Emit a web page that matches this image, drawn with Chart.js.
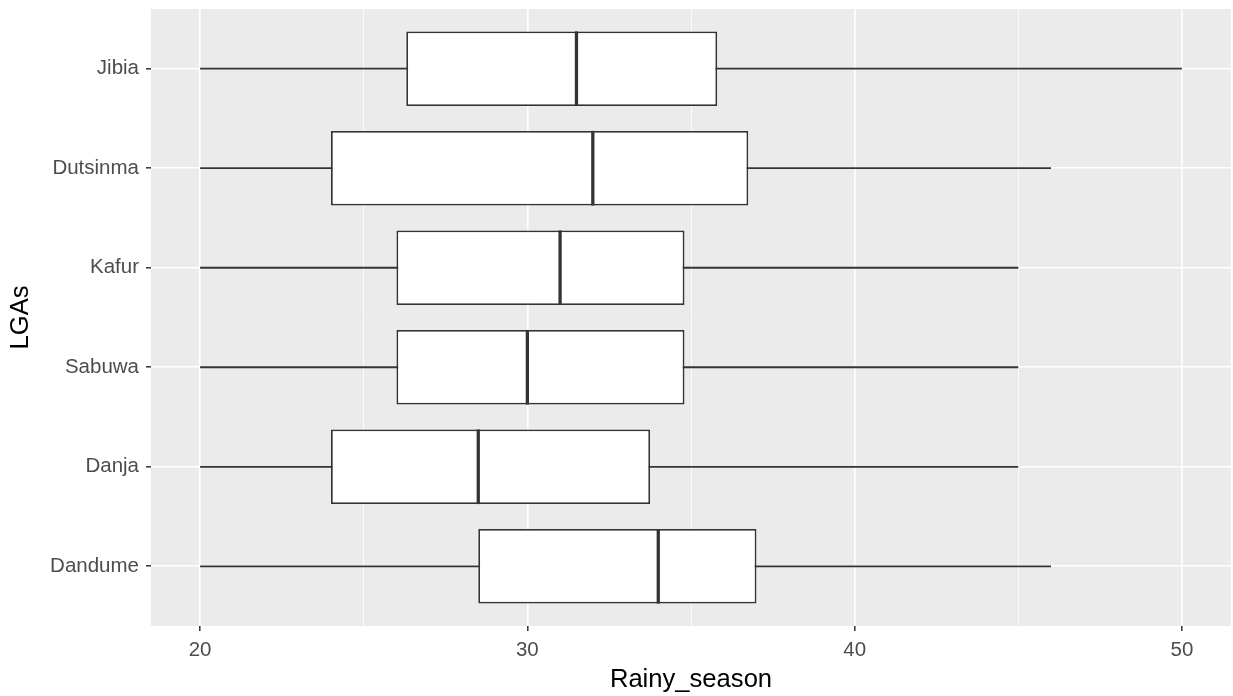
<!DOCTYPE html>
<html><head><meta charset="utf-8">
<script src="https://cdn.jsdelivr.net/npm/chart.js@4.4.0/dist/chart.umd.min.js"></script>
<style>html,body{margin:0;padding:0;background:#fff;overflow:hidden}</style>
</head><body>
<canvas id="c" width="1233" height="696" style="display:block;width:1233px;height:696px"></canvas>
<script>
// ---- data (bottom to top) ----
const categories  = ['Dandume','Danja','Sabuwa','Kafur','Dutsinma','Jibia'];
const whiskerLow  = [20, 20, 20, 20, 20, 20];
const q1          = [28.5, 24, 26, 26, 24, 26.3];
const median      = [34, 28.5, 30, 31, 32, 31.5];
const q3          = [37, 33.75, 34.8, 34.8, 36.75, 35.8];
const whiskerHigh = [46, 45, 45, 45, 46, 50];
const xMajorTicks = [20, 30, 40, 50];
const xTitle = 'Rainy_season';
const yTitle = 'LGAs';

const LINE = '#333333';
const medHalf = 0.05;

const panelBg = {
  id: 'panelBg',
  beforeDraw(chart) {
    const {ctx, chartArea: a} = chart;
    ctx.save();
    ctx.fillStyle = '#ffffff';
    ctx.fillRect(0, 0, chart.width, chart.height);
    ctx.fillStyle = '#EBEBEB';
    ctx.fillRect(a.left, a.top, a.right - a.left, a.bottom - a.top);
    ctx.restore();
  }
};

Chart.defaults.font.family = '"Liberation Sans", Arial, sans-serif';

const common = {grouped: false, categoryPercentage: 1, borderSkipped: false};

new Chart(document.getElementById('c'), {
  type: 'bar',
  data: {
    datasets: [
      Object.assign({
        label: 'median', order: 0,
        data: categories.map((c, i) => ({y: i, x: [median[i] - medHalf, median[i] + medHalf]})),
        backgroundColor: LINE, borderWidth: 0, barPercentage: 0.75
      }, common),
      Object.assign({
        label: 'box', order: 1,
        data: categories.map((c, i) => ({y: i, x: [q1[i], q3[i]]})),
        backgroundColor: '#ffffff', borderColor: LINE, borderWidth: 1.8, barPercentage: 0.75
      }, common),
      Object.assign({
        label: 'whisker', order: 2,
        data: categories.map((c, i) => ({y: i, x: [whiskerLow[i], whiskerHigh[i]]})),
        backgroundColor: LINE, borderWidth: 0, barPercentage: 0.018
      }, common)
    ]
  },
  options: {
    indexAxis: 'y',
    responsive: false,
    animation: false,
    events: [],
    layout: {padding: {top: 9, right: 2, left: 0, bottom: 0}},
    plugins: {legend: {display: false}, tooltip: {enabled: false}},
    scales: {
      x: {
        type: 'linear', position: 'bottom', min: 18.5, max: 51.5, offset: false,
        afterFit(s) { s.height = 70; s.paddingLeft = 0; s.paddingRight = 0; },
        border: {display: false},
        grid: {
          offset: false,
          color: '#ffffff',
          lineWidth: ctx => (xMajorTicks.includes(ctx.tick.value) ? 1.6 : 0.8),
          tickColor: ctx => (xMajorTicks.includes(ctx.tick.value) ? LINE : 'rgba(0,0,0,0)'),
          tickLength: 5, tickWidth: 1.5
        },
        ticks: {
          stepSize: 5, includeBounds: false, autoSkip: false, maxRotation: 0,
          callback: v => (xMajorTicks.includes(v) ? String(v) : ''),
          color: '#4D4D4D', font: {size: 20.5}, padding: 7
        },
        title: {display: true, text: xTitle, color: '#000000', font: {size: 25.6}, padding: {top: 0, bottom: 1}}
      },
      y: {
        type: 'linear', position: 'left', min: -0.6, max: 5.6, offset: false,
        afterFit(s) { s.width = 151; s.paddingTop = 0; s.paddingBottom = 0; },
        border: {display: false},
        grid: {offset: false, color: '#ffffff', lineWidth: 1.6, tickColor: LINE, tickLength: 5, tickWidth: 1.5},
        ticks: {
          stepSize: 1, includeBounds: false, autoSkip: false,
          callback: v => categories[v] ?? '',
          color: '#4D4D4D', font: {size: 20.5}, padding: 7
        },
        title: {display: true, text: yTitle, color: '#000000', font: {size: 25.6}, padding: {top: 6, bottom: 0}}
      }
    }
  },
  plugins: [panelBg]
});
</script>
</body></html>
